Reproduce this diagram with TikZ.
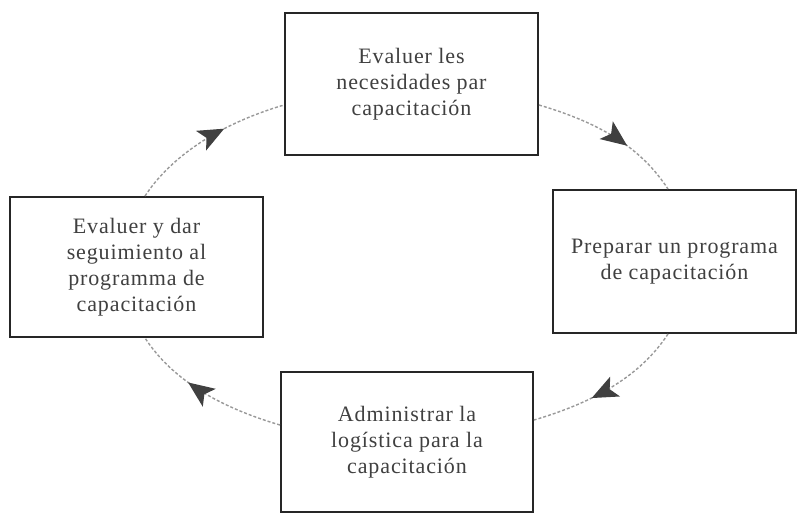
\documentclass[tikz,border=0pt]{standalone}
\usepackage{fontspec}
\setmainfont{Liberation Serif}[LetterSpace=4]
\usetikzlibrary{arrows.meta,decorations.markings}
\begin{document}
\begin{tikzpicture}[x=1pt,y=-1pt,
  stepbox/.style={draw=black!85, line width=2pt, fill=white, align=center,
    text=black!75, font=\fontsize{22}{26}\selectfont, inner sep=0pt},
  cyc/.style={draw=black!40, line width=1.4pt, dash pattern=on 3pt off 2pt,
    postaction={decorate},
    decoration={markings, mark=at position 0.62 with {\arrow[black!75]{Stealth[length=26pt,width=22pt,inset=6pt]}}}}
]
\useasboundingbox (0,0) rectangle (797,514);
\node[stepbox, minimum width=253pt, minimum height=142pt] (T) at (411.5,84) {Evaluer les\\necesidades par\\capacitación};
\node[stepbox, minimum width=243pt, minimum height=143pt] (R) at (674.5,261.5) {Preparar un programa\\de capacitación};
\node[stepbox, minimum width=253pt, minimum height=140pt] (L) at (136.5,267) {Evaluer y dar\\seguimiento al\\programma de\\capacitación};
\node[stepbox, minimum width=252pt, minimum height=140pt] (B) at (407,442) {Administrar la\\logística para la\\capacitación};
\path[cyc] ([xshift=8.5pt]L.north) .. controls +(26.5,-40.3) and +(-63.5,18.7) .. ([yshift=-21pt]T.west);
\path[cyc] ([yshift=-21pt]T.east) .. controls +(63.5,18.7) and +(-26.5,-40.3) .. ([xshift=-6.5pt]R.north);
\path[cyc] ([xshift=-6.5pt]R.south) .. controls +(-26.5,40.3) and +(63.5,-18.7) .. ([yshift=22pt]B.east);
\path[cyc] ([yshift=17pt]B.west) .. controls +(-63.5,-18.7) and +(26.5,40.3) .. ([xshift=8.5pt]L.south);
\end{tikzpicture}
\end{document}
